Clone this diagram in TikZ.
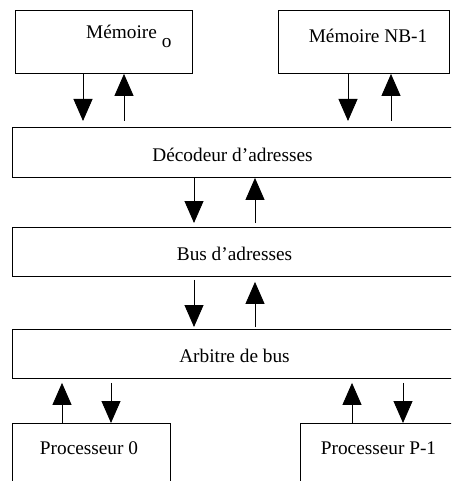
\documentclass[tikz,border=0pt]{standalone}
\usepackage{fontspec}
\setmainfont{Liberation Serif}
\usetikzlibrary{arrows.meta}

\begin{document}
\begin{tikzpicture}[x=1pt,y=-1pt,
  box/.style={draw=black, line width=0.9pt, rectangle, inner sep=0pt, anchor=north west},
  txt/.style={inner sep=0pt, font=\fontsize{19.3}{23}\selectfont},
  link/.style={draw=black, line width=0.9pt, -{Triangle[width=19pt,length=22pt]}}]
  \clip (0,0) rectangle (451,481);
  \fill[white] (0,0) rectangle (451,481);

  % blocks
  \node[box, minimum width=177pt, minimum height=63pt] (mem0) at (15,10) {};
  \node[box, minimum width=171pt, minimum height=63pt] (memN) at (278,10) {};
  \node[box, minimum width=441pt, minimum height=50pt] (dec) at (12,127) {};
  \node[box, minimum width=441pt, minimum height=49pt] (bus) at (12,227) {};
  \node[box, minimum width=441pt, minimum height=49pt] (arb) at (12,329) {};
  \node[box, minimum width=158pt, minimum height=67pt] (p0) at (12,423) {};
  \node[box, minimum width=157pt, minimum height=67pt] (pN) at (300,423) {};

  % labels
  \node[txt, anchor=base west] (t0) at (86,39) {Mémoire\hspace{5pt}\raisebox{-9pt}{o}};
  \node[txt, anchor=base] (tN) at (368,42.5) {Mémoire NB-1};
  \node[txt, anchor=base] (tdec) at (232.5,161) {Décodeur d’adresses};
  \node[txt, anchor=base] (tbus) at (234.5,260) {Bus d’adresses};
  \node[txt, anchor=base] (tarb) at (234.5,362) {Arbitre de bus};
  \node[txt, anchor=base] (tp0) at (89,454) {Processeur 0};
  \node[txt, anchor=base] (tpN) at (378.5,454) {Processeur P-1};

  % arrow columns
  \coordinate (a1) at (83,0);   \coordinate (a2) at (124,0);
  \coordinate (a3) at (348,0);  \coordinate (a4) at (391,0);
  \coordinate (b1) at (194,0);  \coordinate (b2) at (255,0);
  \coordinate (c1) at (62,0);   \coordinate (c2) at (111,0);
  \coordinate (c3) at (352,0);  \coordinate (c4) at (403,0);

  % memories <-> address decoder
  \draw[link, shorten >=6pt] (mem0.south -| a1) -- (dec.north -| a1);
  \draw[link, shorten <=6pt] (dec.north -| a2) -- (mem0.south -| a2);
  \draw[link, shorten >=6pt] (memN.south -| a3) -- (dec.north -| a3);
  \draw[link, shorten <=6pt] (dec.north -| a4) -- (memN.south -| a4);

  % decoder <-> address bus
  \draw[link, shorten >=4pt] (dec.south -| b1) -- (bus.north -| b1);
  \draw[link, shorten <=4pt] (bus.north -| b2) -- (dec.south -| b2);

  % address bus <-> arbiter
  \draw[link, shorten <=3pt, shorten >=2pt] (bus.south -| b1) -- (arb.north -| b1);
  \draw[link, shorten <=2pt, shorten >=5pt] (arb.north -| b2) -- (bus.south -| b2);

  % arbiter <-> processors
  \draw[link, shorten >=4pt] (p0.north -| c1) -- (arb.south -| c1);
  \draw[link, shorten <=4pt] (arb.south -| c2) -- (p0.north -| c2);
  \draw[link, shorten >=4pt] (pN.north -| c3) -- (arb.south -| c3);
  \draw[link, shorten <=4pt] (arb.south -| c4) -- (pN.north -| c4);
\end{tikzpicture}
\end{document}
